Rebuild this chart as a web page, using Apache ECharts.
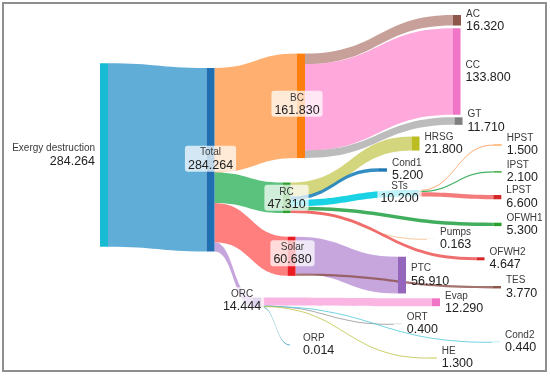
<!DOCTYPE html>
<html><head><meta charset="utf-8">
<script src="https://cdn.jsdelivr.net/npm/echarts@6/dist/echarts.min.js"></script>
<style>
html,body{margin:0;padding:0;background:#fff;}
#chart{position:absolute;left:0;top:0;width:550px;height:376px;}
#frame{position:absolute;left:2px;top:2px;width:541px;height:366px;border:2px solid #8f8f8f;pointer-events:none;}
</style></head><body>
<div id="chart"></div><div id="frame"></div>
<script>
// ---- data ----
const nodeNames = ['Exergy destruction','Total','BC','RC','Solar','ORC',
  'AC','CC','GT','HRSG','Cond1','STs','OFWH1','Pumps','OFWH2','PTC','TES','Evap','ORT','Cond2','ORP','HE',
  'HPST','IPST','LPST'];
const nodeValues = [284.264,284.264,161.830,47.310,60.680,14.444,
  16.320,133.800,11.710,21.800,5.200,10.200,5.300,0.163,4.647,56.910,3.770,12.290,0.400,0.440,0.014,1.300,
  1.500,2.100,6.600];
const linkSources = ['Exergy destruction','Total','Total','Total','Total','BC','BC','BC',
  'RC','RC','RC','RC','RC','RC','STs','STs','STs','Solar','Solar','ORC','ORC','ORC','ORC','ORC'];
const linkTargets = ['Total','BC','RC','Solar','ORC','AC','CC','GT',
  'HRSG','Cond1','STs','OFWH1','Pumps','OFWH2','HPST','IPST','LPST','PTC','TES','Evap','ORT','Cond2','ORP','HE'];
const linkValues = [284.264,161.830,47.310,60.680,14.444,16.320,133.800,11.710,
  21.800,5.200,10.200,5.300,0.163,4.647,1.500,2.100,6.600,56.910,3.770,12.290,0.400,0.440,0.014,1.300];

// ---- layout (node placement as fractions of the sankey area) ----
const nodePlacement = {
  'Exergy destruction':[0.000,0.1523], 'Total':[0.2663,0.1657],
  'BC':[0.4925,0.1246], 'RC':[0.4563,0.4929], 'Solar':[0.4688,0.6477], 'ORC':[0.3825,0.8214],
  'AC':[0.8825,0.0143], 'CC':[0.8813,0.0523], 'GT':[0.8863,0.3066], 'HRSG':[0.7788,0.3614],
  'Cond1':[0.6975,0.4523], 'STs':[0.7763,0.5143], 'OFWH1':[0.9838,0.6077], 'Pumps':[0.8175,0.6537],
  'OFWH2':[0.9413,0.7066], 'PTC':[0.745,0.7049], 'TES':[0.9825,0.7886], 'Evap':[0.83,0.8237],
  'ORT':[0.7343,0.8966], 'Cond2':[0.98,0.948], 'ORP':[0.475,0.9557], 'HE':[0.8218,0.9931],
  'HPST':[0.9843,0.3843], 'IPST':[0.9843,0.4606], 'LPST':[0.9833,0.5286]
};

// ---- styles ----
const nodeColors = {
  'Exergy destruction':'#17bcd2','Total':'#1f6fb2','BC':'#ff7f0e','RC':'#2ca02c','Solar':'#ec1c24','ORC':'#9467bd',
  'AC':'#8c564b','CC':'#f075c6','GT':'#7f7f7f','HRSG':'#bcbd22','Cond1':'#1f77b4','STs':'#17becf',
  'OFWH1':'#2ca02c','Pumps':'#ff7f0e','OFWH2':'#d62728','PTC':'#9467bd','TES':'#8c564b','Evap':'#f075c6',
  'ORT':'#7f7f7f','Cond2':'#17becf','ORP':'#17becf','HE':'#bcbd22','HPST':'#ff7f0e','IPST':'#2ca02c','LPST':'#d62728'
};
const linkColors = {
  'Total':'rgba(28,140,200,0.7)','BC':'rgba(255,142,51,0.7)','RC':'rgba(20,168,68,0.7)',
  'Solar':'rgba(255,72,72,0.7)','ORC':'rgba(174,126,205,0.7)','AC':'rgba(176,119,111,0.7)',
  'CC':'rgba(255,131,205,0.7)','GT':'rgba(160,160,160,0.7)','HRSG':'rgba(194,196,70,0.7)',
  'Cond1':'rgba(30,130,190,0.9)','STs':'rgba(0,205,225,0.9)','HPST':'rgba(255,150,80,0.8)',
  'IPST':'rgba(30,165,70,0.85)','LPST':'rgba(240,80,80,0.75)','OFWH1':'rgba(30,160,65,0.85)',
  'Pumps':'rgba(245,185,135,0.8)','OFWH2':'rgba(235,75,75,0.8)','PTC':'rgba(174,128,206,0.7)',
  'TES':'rgba(140,80,75,0.8)','Evap':'rgba(248,150,215,0.7)','ORT':'rgba(150,150,150,0.8)',
  'Cond2':'rgba(80,200,220,0.8)','ORP':'rgba(60,160,185,0.8)','HE':'rgba(190,195,70,0.8)'
};
const boxLabels = {
  'Total':[0,-1], 'BC':[-4,-2], 'RC':[0,0], 'Solar':[1,-3], 'ORC':[-15,-2], 'STs':[-15,-1]
};
const FONT = '"Liberation Sans", Arial, Helvetica, sans-serif';

function richFor(align){
  return {
    n:{fontSize:10, lineHeight:12, color:'#3a3a3a', fontFamily:FONT, align:align},
    v:{fontSize:12.5, lineHeight:13, color:'#222', fontFamily:FONT, align:align}
  };
}

const nodes = nodeNames.map(function(name, i){
  const p = nodePlacement[name];
  let label;
  if (name === 'Exergy destruction') {
    label = {position:'left', distance:5, rich:richFor('right')};
  } else if (boxLabels[name]) {
    label = {position:'inside', offset:boxLabels[name], rich:richFor('center'),
      backgroundColor:'rgba(255,255,255,0.72)', borderRadius:3, padding:[1,3,0,3]};
  } else {
    label = {position:'right', distance:5, rich:richFor('left')};
  }
  return {name:name, value:nodeValues[i], localX:p[0], localY:p[1],
    itemStyle:{color:nodeColors[name], borderWidth:0}, label:label};
});

const links = linkSources.map(function(s, i){
  return {source:s, target:linkTargets[i], value:linkValues[i],
    lineStyle:{color:linkColors[linkTargets[i]], opacity:1, curveness:0.5}};
});

const chart = echarts.init(document.getElementById('chart'), null, {renderer:'canvas'});
chart.setOption({
  animation:false,
  backgroundColor:'#fff',
  series:[{
    type:'sankey',
    left:100, top:10, width:400, height:350,
    nodeWidth:8, nodeGap:11.1,
    layoutIterations:0,
    nodeAlign:'left',
    draggable:false,
    emphasis:{disabled:true},
    label:{show:true, formatter:function(p){
      const v = nodeValues[nodeNames.indexOf(p.name)];
      return '{n|' + p.name + '}\n{v|' + v.toFixed(3) + '}';
    }},
    data:nodes,
    links:links
  }]
});
</script>
</body></html>
